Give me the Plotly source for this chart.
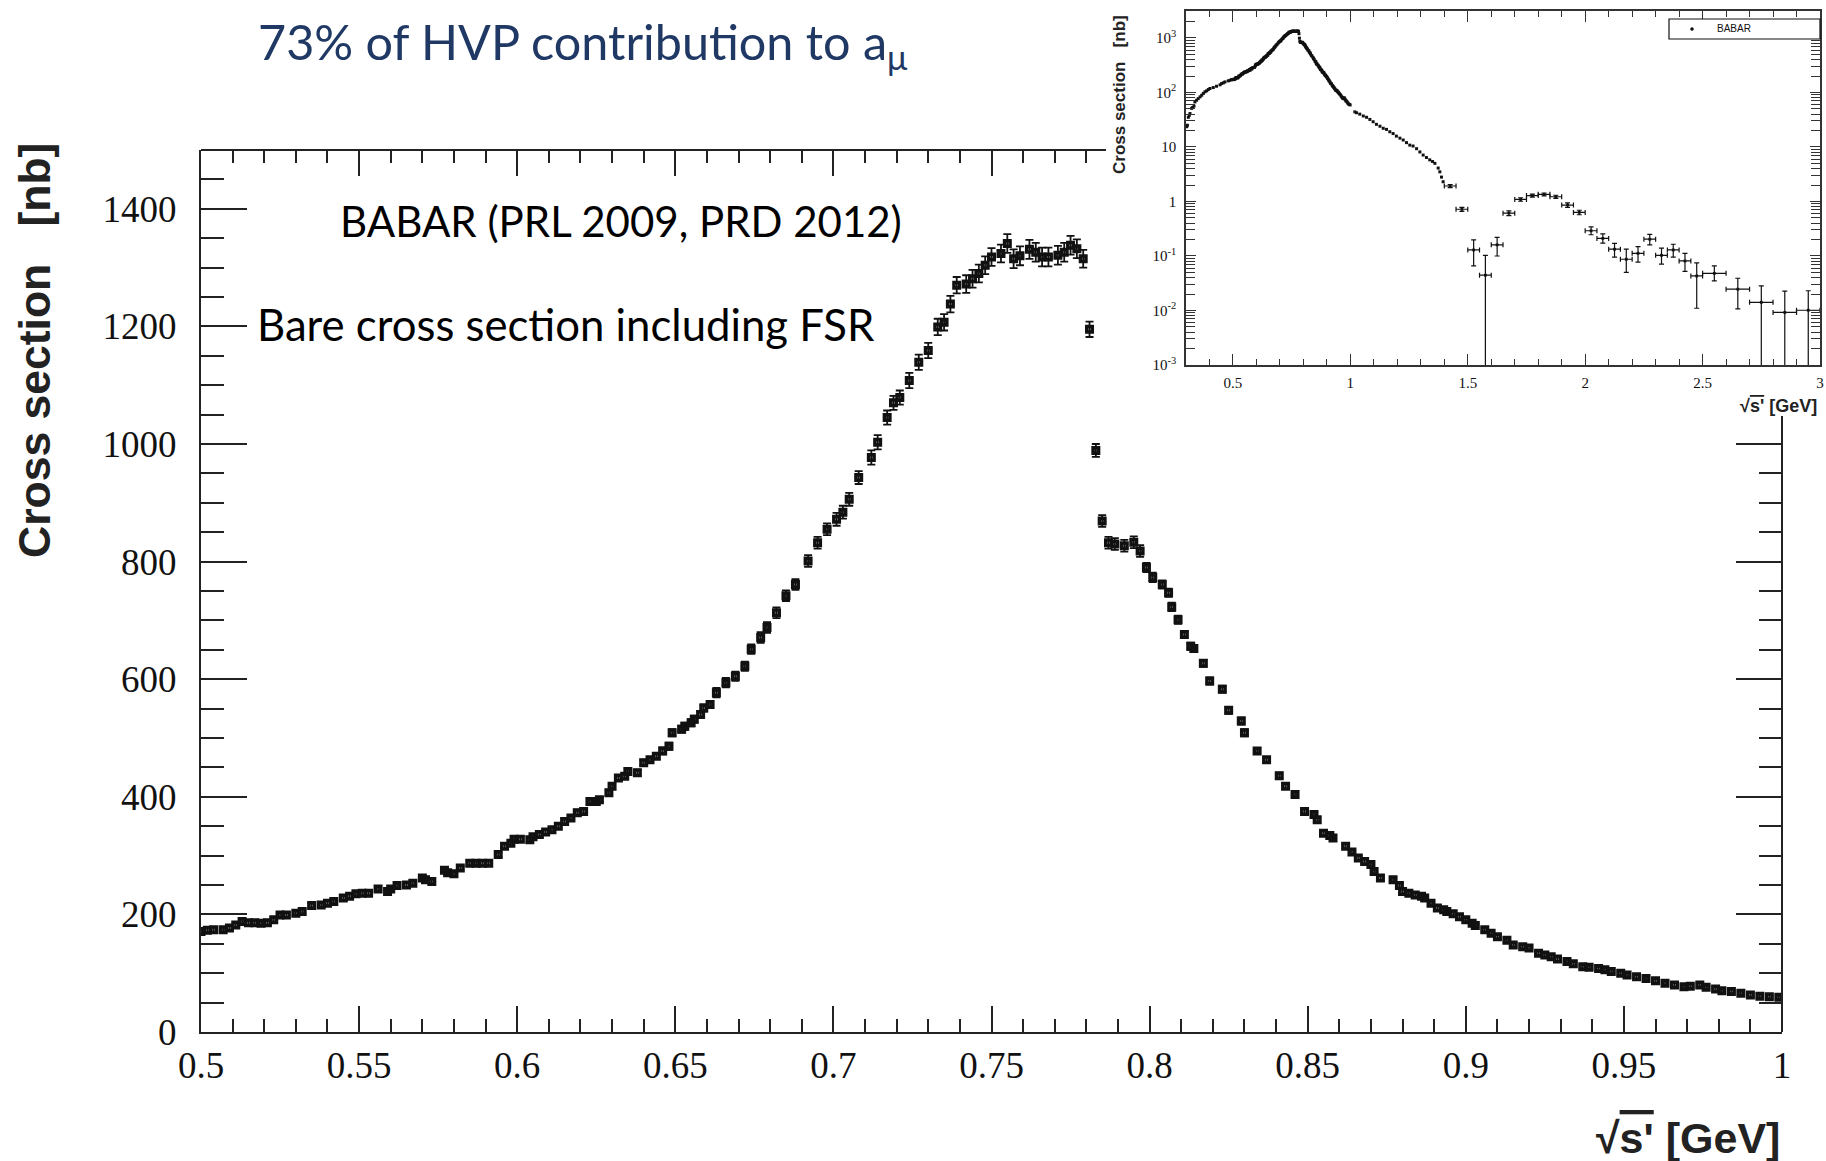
import plotly.graph_objects as go

W, H = 1826, 1161

# ---------------- main panel: BaBar pi+pi- bare cross section incl. FSR [nb] ----------------
MAIN_X = [
    0.500, 0.502, 0.504, 0.507, 0.509, 0.511, 0.513, 0.515, 0.517, 0.519,
    0.521, 0.523, 0.525, 0.527, 0.530, 0.532, 0.535, 0.538, 0.540, 0.542,
    0.545, 0.547, 0.549, 0.551, 0.553, 0.556, 0.559, 0.560, 0.562, 0.565,
    0.567, 0.570, 0.571, 0.573, 0.577, 0.578, 0.580, 0.582, 0.585, 0.587,
    0.589, 0.591, 0.594, 0.596, 0.598, 0.599,
    0.601, 0.604, 0.605, 0.607, 0.609, 0.611, 0.613, 0.615, 0.617, 0.619,
    0.621, 0.623, 0.625, 0.626, 0.629, 0.630, 0.632, 0.634, 0.635, 0.638,
    0.640, 0.642, 0.644,
    0.646, 0.648, 0.649, 0.652, 0.653, 0.655, 0.656, 0.658, 0.659, 0.661,
    0.663, 0.666, 0.669, 0.672, 0.674, 0.677, 0.679, 0.682, 0.685, 0.688,
    0.692, 0.695, 0.698, 0.701, 0.703, 0.705, 0.708, 0.712, 0.714, 0.717,
    0.719, 0.721, 0.724, 0.727, 0.730, 0.733, 0.735, 0.737, 0.739, 0.742,
    0.744, 0.746, 0.748, 0.750, 0.753, 0.755, 0.757, 0.759, 0.762, 0.764,
    0.766, 0.768, 0.771, 0.773, 0.775, 0.777, 0.779, 0.781, 0.783, 0.785,
    0.787, 0.789, 0.792, 0.795, 0.797, 0.799, 0.801, 0.804, 0.806,
    0.807, 0.809, 0.811, 0.813, 0.814, 0.817, 0.819, 0.823, 0.825, 0.829,
    0.830, 0.834, 0.837, 0.841, 0.843, 0.846, 0.849, 0.852, 0.853, 0.855,
    0.857, 0.858, 0.862, 0.864, 0.866, 0.868, 0.870, 0.871, 0.873, 0.877,
    0.879, 0.880, 0.882, 0.884, 0.886, 0.887, 0.889, 0.891, 0.893, 0.894,
    0.896, 0.898, 0.900, 0.902, 0.903, 0.906, 0.908, 0.910, 0.913, 0.915,
    0.918, 0.920, 0.923, 0.925, 0.927, 0.929, 0.932, 0.934, 0.937, 0.939,
    0.942, 0.944, 0.946, 0.949, 0.951, 0.954, 0.957, 0.960, 0.963, 0.966,
    0.969, 0.971, 0.974, 0.976, 0.979, 0.981, 0.984, 0.987, 0.990, 0.993,
    0.996, 0.999,
]
MAIN_Y = [
    171, 173, 174, 174, 177, 182, 188, 186, 186, 185,
    186, 191, 199, 199, 202, 205, 215, 216, 219, 222,
    228, 231, 235, 236, 236, 243, 239, 243, 249, 250,
    253, 262, 259, 256, 275, 271, 269, 279, 287, 287,
    287, 287, 302, 316, 321, 328,
    328, 327, 332, 336, 340, 344, 350, 358, 364, 373,
    375, 392, 392, 395, 407, 418, 432, 435, 443, 441,
    458, 463, 469,
    478, 486, 509, 515, 520, 526, 532, 540, 551, 557,
    577, 594, 605, 622, 651, 671, 688, 713, 742, 761,
    801, 832, 855, 872, 884, 906, 943, 977, 1003, 1045,
    1070, 1079, 1108, 1139, 1159, 1199, 1207, 1238, 1270, 1272,
    1281, 1290, 1304, 1318, 1324, 1341, 1315, 1320, 1331, 1326,
    1318, 1318, 1321, 1326, 1338, 1332, 1315, 1195, 989, 869,
    832, 830, 827, 833, 818, 790, 773, 761, 747,
    723, 701, 676, 656, 652, 627, 597, 583, 547, 529,
    509, 478, 463, 436, 418, 404, 375, 370, 361, 338,
    334, 330, 316, 306, 296, 290, 285, 273, 262, 259,
    249, 239, 236, 233, 231, 228, 219, 211, 208, 205,
    201, 196, 191, 185, 181, 174, 168, 162, 156, 148,
    145, 143, 134, 131, 128, 124, 120, 116, 111, 110,
    108, 106, 103, 100, 97, 94, 91, 87, 83, 80,
    77, 78, 80, 76, 73, 70, 69, 66, 63, 61,
    60, 59,
]
MAIN_ERR = [
    4, 4, 4, 4, 4, 4, 4, 4, 4, 4,
    4, 4, 4, 4, 4, 4, 4, 4, 4, 4,
    4, 4, 4, 4, 4, 4, 4, 4, 4, 4,
    4, 4, 4, 4, 4, 4, 4, 4, 4, 4,
    4, 4, 4, 4, 4, 4,
    5, 5, 5, 5, 5, 5, 5, 5, 5, 5,
    5, 5, 5, 5, 5, 5, 5, 5, 5, 5,
    5, 5, 5,
    6, 6, 6, 6, 6, 6, 6, 6, 6, 6,
    8, 8, 8, 8, 8, 9, 9, 9, 9, 9,
    10, 10, 10, 11, 11, 11, 11, 12, 12, 12,
    12, 12, 13, 13, 13, 14, 14, 14, 14, 15,
    15, 15, 15, 15, 15, 16, 16, 16, 16, 16,
    16, 16, 16, 16, 16, 16, 15, 13, 11, 10,
    10, 10, 10, 10, 10, 8, 8, 7, 7,
    7, 7, 6, 6, 6, 6, 6, 6, 6, 6,
    6, 5, 5, 5, 5, 5, 5, 5, 5, 5,
    5, 5, 4, 4, 4, 4, 4, 4, 4, 4,
    4, 4, 4, 4, 4, 4, 4, 4, 4, 4,
    4, 4, 3, 3, 3, 3, 3, 3, 3, 3,
    3, 3, 3, 3, 3, 3, 3, 3, 3, 3,
    3, 3, 3, 3, 3, 3, 3, 3, 3, 3,
    3, 3, 3, 3, 3, 3, 3, 3, 3, 3,
    3, 3,
]

# ---------------- inset (log scale, 0.3 - 3 GeV) ----------------
INSET_LOW_X = [0.303, 0.306, 0.310, 0.314, 0.317, 0.324, 0.328, 0.334, 0.338, 0.345,
               0.352, 0.360, 0.367, 0.374, 0.381, 0.388, 0.395, 0.402, 0.416, 0.430,
               0.445, 0.452, 0.459, 0.466, 0.480, 0.487, 0.494]
INSET_LOW_Y = [23.5, 25, 35, 38, 41, 51, 53, 56, 67, 72,
               77, 83, 89, 96, 103, 107, 113, 118, 123, 130,
               138, 146, 150, 156, 163, 167, 172]
INSET_MID_X = [1.019, 1.026, 1.040, 1.055, 1.069, 1.083, 1.097, 1.111, 1.126, 1.140,
               1.154, 1.168, 1.182, 1.196, 1.211, 1.225, 1.239, 1.253, 1.267, 1.282,
               1.296, 1.310, 1.324, 1.338, 1.350, 1.360, 1.374, 1.381, 1.388, 1.395]
INSET_MID_Y = [44, 42.4, 40, 37, 35, 32, 29, 26, 24, 22,
               21, 19, 17.6, 15.8, 14.5, 13.4, 12, 10.8, 10.4, 9.3,
               8.1, 7.1, 6.4, 5.8, 5.4, 5.0, 4.1, 3.5, 2.8, 2.3]

BIN_X = [1.425, 1.475, 1.525, 1.575, 1.625, 1.675, 1.725, 1.775, 1.825, 1.875,
         1.925, 1.975, 2.025, 2.075, 2.125, 2.175, 2.225, 2.275, 2.325, 2.375,
         2.425, 2.475, 2.55, 2.65, 2.75, 2.85, 2.95]
BIN_HW = [0.025, 0.025, 0.025, 0.025, 0.025, 0.025, 0.025, 0.025, 0.025, 0.025,
          0.025, 0.025, 0.025, 0.025, 0.025, 0.025, 0.025, 0.025, 0.025, 0.025,
          0.025, 0.025, 0.05, 0.05, 0.05, 0.05, 0.05]
BIN_Y = [1.92, 0.72, 0.129, 0.0444, 0.16, 0.61, 1.09, 1.28, 1.35, 1.22,
         0.86, 0.63, 0.29, 0.21, 0.133, 0.087, 0.112, 0.203, 0.103, 0.129,
         0.081, 0.043, 0.048, 0.0246, 0.0141, 0.0092, 0.0101]
BIN_EUP = [0.12, 0.06, 0.068, 0.058, 0.06, 0.06, 0.08, 0.08, 0.08, 0.08,
           0.08, 0.06, 0.053, 0.045, 0.038, 0.046, 0.037, 0.047, 0.036, 0.035,
           0.031, 0.032, 0.018, 0.0144, 0.0142, 0.0135, 0.0129]
BIN_EDN = [0.12, 0.06, 0.063, 0.0439, 0.06, 0.06, 0.08, 0.08, 0.08, 0.08,
           0.08, 0.06, 0.045, 0.038, 0.038, 0.037, 0.035, 0.043, 0.032, 0.034,
           0.029, 0.032, 0.013, 0.0139, 0.0136, 0.0087, 0.0096]

INSET_DECADES = [0.001, 0.01, 0.1, 1, 10, 100, 1000]
INSET_DECADE_TEXT = ["10<sup>-3</sup>", "10<sup>-2</sup>", "10<sup>-1</sup>", "1", "10",
                     "10<sup>2</sup>", "10<sup>3</sup>"]

TITLE = "73% of HVP contribution to a<sub>μ</sub>"
NOTE1 = "BABAR (PRL 2009, PRD 2012)"
NOTE2 = "Bare cross section including FSR"
YTITLE = "<b>Cross section\u00a0\u00a0\u00a0[nb]</b>"
XTITLE = "<b>√<span style='text-decoration:overline'>s'</span> [GeV]</b>"


def fx(p):
    return p / W


def fy(p):
    return 1 - p / H


AX = "#222222"
SERIF = "Liberation Serif"
SANS = "Liberation Sans"
CAL = "Lato"

fig = go.Figure()

# main data
fig.add_trace(go.Scatter(
    x=MAIN_X, y=MAIN_Y, mode="markers", xaxis="x", yaxis="y",
    marker=dict(symbol="square-open", size=5.5, color="#111111", line=dict(width=3.5, color="#111111")),
    error_y=dict(type="data", array=MAIN_ERR, color="#111111", thickness=1.8, width=4),
    showlegend=False, hoverinfo="x+y"))

# invisible helpers so the partial top/right tick axes exist
fig.add_trace(go.Scatter(x=[0.6], y=[100], xaxis="x3", yaxis="y", mode="markers",
                         marker=dict(opacity=0), hoverinfo="skip", showlegend=False))
fig.add_trace(go.Scatter(x=[0.6], y=[100], xaxis="x", yaxis="y3", mode="markers",
                         marker=dict(opacity=0), hoverinfo="skip", showlegend=False))

# inset: dense part (same BaBar data set)
ins_x = INSET_LOW_X + MAIN_X + INSET_MID_X
ins_y = INSET_LOW_Y + MAIN_Y + INSET_MID_Y
fig.add_trace(go.Scatter(
    x=ins_x, y=ins_y, mode="markers", xaxis="x2", yaxis="y2",
    marker=dict(symbol="square", size=3, color="#111111"),
    showlegend=False, name="BABAR"))
fig.add_trace(go.Scatter(
    x=BIN_X, y=BIN_Y, mode="markers", xaxis="x2", yaxis="y2",
    marker=dict(symbol="square", size=2.8, color="#111111"),
    error_x=dict(type="data", array=BIN_HW, color="#111111", thickness=1.2, width=2.5),
    error_y=dict(type="data", symmetric=False, array=BIN_EUP, arrayminus=BIN_EDN,
                 color="#111111", thickness=1.2, width=2.5),
    showlegend=False, name="BABAR"))

main_minor_top = [round(0.5 + 0.01 * i, 2) for i in range(1, 29) if i % 5 != 0]
main_minor_right = [50 * i for i in range(1, 21) if i % 4 != 0]
inset_minor_y = [k * d for d in INSET_DECADES for k in range(2, 10) if k * d <= 3000]

fig.update_layout(
    width=W, height=H, autosize=False,
    margin=dict(l=0, r=0, t=0, b=0, pad=0),
    paper_bgcolor="white", plot_bgcolor="rgba(0,0,0,0)",
    showlegend=False,
    xaxis=dict(
        domain=[fx(201), fx(1782)], range=[0.5, 1.0], anchor="y", automargin=False,
        tickmode="linear", tick0=0.5, dtick=0.05, tickformat=".2~f",
        ticks="inside", ticklen=26, tickwidth=2, tickcolor=AX,
        minor=dict(ticks="inside", ticklen=13, tickwidth=2, tickcolor=AX, dtick=0.01, tick0=0.5),
        showline=True, linewidth=2, linecolor=AX, mirror=False,
        showgrid=False, zeroline=False, fixedrange=True,
        tickfont=dict(family=SERIF, size=37, color="#111111"), ticklabelstandoff=0),
    yaxis=dict(
        domain=[fy(1032), fy(150)], range=[0, 1500], anchor="x", automargin=False,
        tickmode="linear", tick0=0, dtick=200,
        ticks="inside", ticklen=46, tickwidth=2, tickcolor=AX,
        minor=dict(ticks="inside", ticklen=23, tickwidth=2, tickcolor=AX, dtick=50, tick0=0),
        showline=True, linewidth=2, linecolor=AX, mirror=False,
        showgrid=False, zeroline=False, fixedrange=True,
        tickfont=dict(family=SERIF, size=37, color="#111111"), ticklabelstandoff=15),
    xaxis3=dict(
        overlaying="x", side="top", anchor="y", range=[0.5, 1.0], automargin=False,
        tickmode="array", tickvals=[0.55, 0.6, 0.65, 0.7, 0.75],
        ticks="inside", ticklen=26, tickwidth=2, tickcolor=AX, showticklabels=False,
        minor=dict(tickmode="array", tickvals=main_minor_top, ticks="inside", ticklen=13,
                   tickwidth=2, tickcolor=AX),
        showline=False, showgrid=False, zeroline=False, fixedrange=True),
    yaxis3=dict(
        overlaying="y", side="right", anchor="x", range=[0, 1500], automargin=False,
        tickmode="array", tickvals=[200, 400, 600, 800, 1000],
        ticks="inside", ticklen=46, tickwidth=2, tickcolor=AX, showticklabels=False,
        minor=dict(tickmode="array", tickvals=main_minor_right, ticks="inside", ticklen=23,
                   tickwidth=2, tickcolor=AX),
        showline=False, showgrid=False, zeroline=False, fixedrange=True),
    xaxis2=dict(
        domain=[fx(1186), fx(1820)], range=[0.3, 3.0], anchor="y2", automargin=False,
        tickmode="linear", tick0=0.5, dtick=0.5, tickformat=".1~f",
        ticks="inside", ticklen=11, tickwidth=1.2, tickcolor="#333333",
        minor=dict(ticks="inside", ticklen=6, tickwidth=1.2, tickcolor="#333333", dtick=0.1, tick0=0.3),
        showline=True, linewidth=1.5, linecolor="#333333", mirror="ticks",
        showgrid=False, zeroline=False, fixedrange=True,
        tickfont=dict(family=SERIF, size=15, color="#111111"), ticklabelstandoff=3),
    yaxis2=dict(
        domain=[fy(365), fy(11)], type="log", range=[-3, 3.494], anchor="x2", automargin=False,
        tickmode="array", tickvals=INSET_DECADES, ticktext=INSET_DECADE_TEXT,
        ticks="inside", ticklen=10, tickwidth=1.2, tickcolor="#333333",
        minor=dict(tickmode="array", tickvals=inset_minor_y, ticks="inside", ticklen=9,
                   tickwidth=1.2, tickcolor="#333333"),
        showline=True, linewidth=1.5, linecolor="#333333", mirror="ticks",
        showgrid=False, zeroline=False, fixedrange=True,
        tickfont=dict(family=SERIF, size=15, color="#111111"), ticklabelstandoff=5),
)

# partial frame of main panel (the inset covers its top-right corner)
fig.add_shape(type="line", xref="paper", yref="paper", x0=fx(201), x1=fx(1106), y0=fy(150), y1=fy(150),
              line=dict(color=AX, width=2))
fig.add_shape(type="line", xref="paper", yref="paper", x0=fx(1782), x1=fx(1782), y0=fy(1032), y1=fy(416),
              line=dict(color=AX, width=2))

# inset legend box
fig.add_shape(type="rect", xref="paper", yref="paper", x0=fx(1669), x1=fx(1820), y0=fy(39), y1=fy(19),
              line=dict(color="#111111", width=1.2), fillcolor="white")
fig.add_shape(type="circle", xref="paper", yref="paper", x0=fx(1690.5), x1=fx(1693.5), y0=fy(30.5), y1=fy(27.5),
              line=dict(color="#111111", width=0.5), fillcolor="#111111")

ann = [
    dict(text=TITLE, x=fx(256), y=fy(45), xanchor="left", yanchor="middle",
         font=dict(family=CAL, size=48.5, color="#1f3864")),
    dict(text=NOTE1, x=fx(338), y=fy(221), xanchor="left", yanchor="middle",
         font=dict(family=CAL, size=42, color="#000000")),
    dict(text=NOTE2, x=fx(255), y=fy(324), xanchor="left", yanchor="middle",
         font=dict(family=CAL, size=43.7, color="#000000")),
    dict(text=YTITLE, x=fx(34), y=fy(351), xanchor="center", yanchor="middle", textangle=-90,
         font=dict(family=SANS, size=44.5, color="#222222")),
    dict(text=XTITLE, x=fx(1782), y=fy(1138), xanchor="right", yanchor="middle",
         font=dict(family=SANS, size=43, color="#222222")),
    dict(text=YTITLE, x=fx(1119), y=fy(95), xanchor="center", yanchor="middle", textangle=-90,
         font=dict(family=SANS, size=17, color="#222222")),
    dict(text=XTITLE, x=fx(1819), y=fy(406), xanchor="right", yanchor="middle",
         font=dict(family=SANS, size=18, color="#222222")),
    dict(text="BABAR", x=fx(1715), y=fy(29), xanchor="left", yanchor="middle",
         font=dict(family=SANS, size=10, color="#111111")),
]
for a in ann:
    a.update(xref="paper", yref="paper", showarrow=False)
    fig.add_annotation(**a)

fig.write_html("out.html", config={"displayModeBar": False})
